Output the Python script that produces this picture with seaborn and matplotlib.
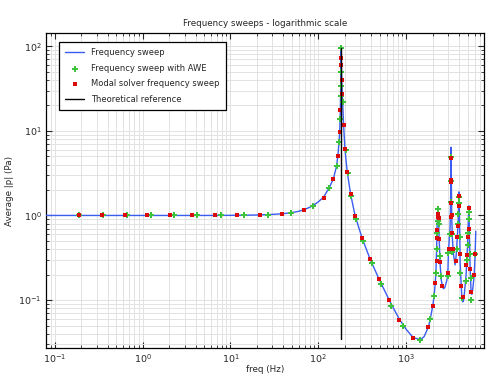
import matplotlib
matplotlib.use("Agg")
import matplotlib.pyplot as plt
import seaborn as sns
import pandas as pd

# frequency sweep (blue line)
sweep_freq = [0.08, 0.2, 0.5, 1, 2, 5, 10, 20, 30, 40, 50, 60, 70, 80, 90, 100, 115, 133,
              148, 161, 167, 172, 175, 177, 178, 179.5, 180.5, 181.5, 183, 184.5, 186, 189,
              194, 201, 213, 233, 263, 314, 387, 493, 641, 839, 1000, 1202, 1454, 1600,
              1792, 1874, 2010, 2080, 2140, 2180, 2220, 2250, 2270, 2300, 2330, 2370, 2400,
              2432, 2500, 2585, 2655, 2750, 2900, 2978, 3026, 3100, 3162, 3200, 3230, 3246,
              3265, 3300, 3350, 3450, 3603, 3700, 3800, 3900, 3960, 3990, 4030, 4080, 4110,
              4217, 4297, 4400, 4480, 4600, 4808, 4900, 4975, 5050, 5120, 5180, 5230, 5300,
              5336, 5430, 5480, 5580, 5700, 5929, 6085, 6197]
sweep_p = [1.0, 1.0, 1.0, 1.0, 1.0, 1.0, 1.003, 1.012, 1.03, 1.05, 1.08, 1.12, 1.18, 1.25,
           1.34, 1.45, 1.65, 2.13, 2.7, 3.8, 5.1, 7.3, 9.6, 14, 17.5, 30, 50, 95, 60, 40, 30,
           22, 11.6, 6.0, 3.3, 1.78, 0.98, 0.545, 0.307, 0.175, 0.1, 0.0588, 0.045, 0.036,
           0.034, 0.037, 0.048, 0.0588, 0.086, 0.113, 0.157, 0.213, 0.40, 0.75, 1.0, 1.25,
           0.95, 0.55, 0.40, 0.27, 0.175, 0.148, 0.136, 0.14, 0.17, 0.20, 0.36, 0.55, 0.72,
           1.4, 3.0, 6.4, 2.6, 1.0, 0.55, 0.35, 0.26, 0.33, 0.5, 0.8, 1.4, 1.9, 1.2, 0.55,
           0.28, 0.16, 0.11, 0.095, 0.098, 0.12, 0.2, 0.29, 0.40, 0.65, 1.0, 1.3, 0.7, 0.35,
           0.25, 0.16, 0.125, 0.117, 0.13, 0.19, 0.33, 0.65]

# frequency sweep with AWE (green plus)
awe_freq = [0.19, 0.35, 0.66, 1.23, 2.25, 4.2, 7.7, 14.3, 26.9, 49, 88, 133, 161, 172, 177,
            179, 180, 181, 181.5, 189, 204, 215, 236, 268, 322, 403, 516, 676, 925, 1454,
            1874, 2080, 2175, 2233, 2260, 2290, 2310, 2345, 2400, 2500, 2978, 3026, 3150,
            3210, 3232, 3244, 3290, 3340, 3780, 3880, 3930, 3960, 3985, 4060, 4150, 4300,
            4750, 4900, 5000, 5080, 5150, 5200, 5300, 5400, 5500, 6085]
awe_p = [1.0, 1.0, 1.0, 1.0, 1.0, 1.0, 1.002, 1.006, 1.02, 1.08, 1.3, 2.13, 3.8, 7.3, 13.7,
         25.6, 33.6, 49, 95, 22, 5.9, 3.2, 1.72, 0.91, 0.50, 0.273, 0.153, 0.086, 0.049, 0.034,
         0.059, 0.113, 0.211, 0.40, 0.62, 0.85, 1.2, 0.80, 0.33, 0.19, 0.19, 0.36, 0.60,
         1.44, 2.55, 4.9, 0.6, 0.37, 0.40, 0.80, 1.03, 1.39, 1.65, 0.55, 0.21, 0.107, 0.17,
         0.30, 0.45, 0.62, 0.90, 1.1, 0.35, 0.18, 0.10, 0.35]

# modal solver frequency sweep (red squares)
modal_freq = [0.187, 0.342, 0.624, 1.11, 2.03, 3.6, 6.6, 12.0, 21.4, 39, 69, 115, 148, 167,
              175, 178, 180.8, 183, 184.5, 186, 194, 201, 213, 233, 263, 314, 387, 493, 641,
              839, 1202, 1792, 2010, 2150, 2220, 2245, 2265, 2290, 2320, 2340, 2370, 2430,
              2585, 3000, 3100, 3215, 3228, 3236, 3243, 3260, 3285, 3320, 3400, 3650, 3800,
              3920, 3975, 4000, 4100, 4217, 4480, 4850, 4975, 5080, 5150, 5200, 5336, 5480,
              5929, 6085]
modal_p = [1.0, 1.0, 1.0, 1.0, 1.0, 1.0, 1.001, 1.004, 1.014, 1.05, 1.17, 1.63, 2.7, 5.1,
           9.6, 17.5, 72, 60, 39.6, 27, 11.6, 6.04, 3.3, 1.79, 0.98, 0.545, 0.307, 0.175,
           0.1005, 0.0588, 0.036, 0.048, 0.086, 0.16, 0.29, 0.54, 0.68, 0.97, 1.05, 0.94,
           0.53, 0.28, 0.148, 0.21, 0.40, 0.97, 1.4, 2.6, 4.73, 2.5, 1.0, 0.62, 0.40, 0.29,
           0.55, 0.75, 1.72, 1.3, 0.35, 0.148, 0.108, 0.26, 0.345, 0.55, 0.70, 1.24, 0.23,
           0.124, 0.2, 0.35]

# theoretical resonance
theory_freq = [181, 181]
theory_p = [0.035, 95]


def main():
    sns.set_theme(style="ticks", rc={
        "axes.edgecolor": "black", "axes.linewidth": 0.9,
        "xtick.direction": "in", "ytick.direction": "in",
        "xtick.top": True, "ytick.right": True,
        "xtick.major.size": 4, "ytick.major.size": 4,
        "xtick.minor.size": 2.2, "ytick.minor.size": 2.2,
        "xtick.major.width": 0.8, "ytick.major.width": 0.8,
        "xtick.minor.width": 0.6, "ytick.minor.width": 0.6,
    })
    plt.rcParams['font.family'] = ['DejaVu Sans']

    fig = plt.figure(figsize=(4.98, 3.78), dpi=100)
    ax = fig.add_axes([0.092, 0.079, 0.88, 0.834])
    ax.set_xscale("log")
    ax.set_yscale("log")

    sweep = pd.DataFrame({"f": sweep_freq, "p": sweep_p})
    awe = pd.DataFrame({"f": awe_freq, "p": awe_p})
    modal = pd.DataFrame({"f": modal_freq, "p": modal_p})

    sns.lineplot(data=sweep, x="f", y="p", sort=False, estimator=None, color="#3a5cf0",
                 lw=1.0, ax=ax, label="Frequency sweep", zorder=3)
    sns.scatterplot(data=awe, x="f", y="p", marker="P", s=21, color="#3cc23c", linewidth=0,
                    ax=ax, label="Frequency sweep with AWE", zorder=4)
    sns.scatterplot(data=modal, x="f", y="p", marker="s", s=11, color="#dd0a0a", linewidth=0,
                    ax=ax, label="Modal solver frequency sweep", zorder=5)
    sns.lineplot(x=theory_freq, y=theory_p, sort=False, estimator=None, color="black",
                 lw=1.0, ax=ax, label="Theoretical reference", zorder=6)

    ax.set_xlim(0.079, 7700)
    ax.set_ylim(0.027, 144)
    ax.grid(True, which="both", color="#e2e2e2", lw=0.7)
    ax.tick_params(which="both", labelsize=6.8, pad=3)

    ax.set_title("Frequency sweeps - logarithmic scale", fontsize=6.3, pad=5)
    ax.set_xlabel("freq (Hz)", fontsize=6.3, labelpad=0)
    ax.set_ylabel("Average |p| (Pa)", fontsize=6.3, labelpad=3)

    leg = ax.legend(loc="upper left", bbox_to_anchor=(0.02, 0.985), fontsize=6.0,
                    fancybox=False, framealpha=1, edgecolor="black", markerscale=1.0,
                    borderpad=0.75, labelspacing=0.8, handlelength=2.3)
    leg.get_frame().set_linewidth(0.9)

    fig.savefig("out.png", dpi=100)


if __name__ == "__main__":
    main()
